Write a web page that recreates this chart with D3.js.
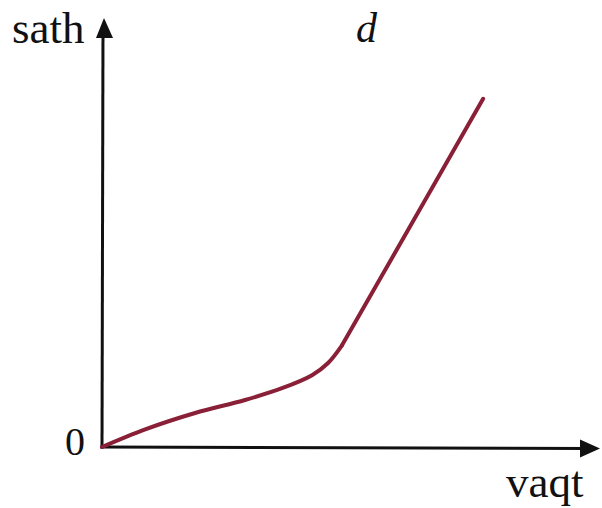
<!DOCTYPE html>
<html>
<head>
<meta charset="utf-8">
<script src="https://cdn.jsdelivr.net/npm/d3@7"></script>
<style>
html,body{margin:0;padding:0;background:#fff;}
svg{display:block;}
text{font-family:"Liberation Serif","Times New Roman",serif;fill:#111;}
</style>
</head>
<body>
<svg id="chart" width="602" height="508"></svg>
<script>
// Data (arbitrary units)
const timeValues = [0, 0.9, 1.94, 2.98, 3.75, 4.375, 4.71, 5.0, 7.94];
const distValues = [0, 0.42, 0.81, 1.12, 1.40, 1.71, 2.0, 2.42, 8.29];
const kneeIndex = 7; // straight segment after this point
const axisLabels = {x: "vaqt", y: "sath", origin: "0", title: "d"};

const svg = d3.select("#chart");
const x = d3.scaleLinear().domain([0, 10]).range([102, 582]);
const y = d3.scaleLinear().domain([0, 10]).range([447, 27]);

const data = timeValues.map((t, i) => ({t, s: distValues[i]}));

// axes
svg.append("line").attr("x1", x(0)).attr("y1", y(0) + 1.5)
  .attr("x2", x(0) + 1).attr("y2", 30)
  .attr("stroke", "#111").attr("stroke-width", 3);
svg.append("polygon")
  .attr("points", [[x(0) + 2, 18], [x(0) - 6, 38], [x(0) + 11, 38]].map(p => p.join(",")).join(" "))
  .attr("fill", "#111");

svg.append("line").attr("x1", x(0) - 1.5).attr("y1", y(0))
  .attr("x2", 588).attr("y2", y(0) + 1.5)
  .attr("stroke", "#111").attr("stroke-width", 3);
svg.append("polygon")
  .attr("points", [[600, y(0) + 1.5], [580, y(0) - 7.5], [580, y(0) + 10.5]].map(p => p.join(",")).join(" "))
  .attr("fill", "#111");

// curve: smooth lower part, straight upper part
const smooth = d3.line().x(d => x(d.t)).y(d => y(d.s)).curve(d3.curveCatmullRom.alpha(0.5));
const straight = d3.line().x(d => x(d.t)).y(d => y(d.s)).curve(d3.curveLinear);
const stroke = "#8a2038";
[[smooth, data.slice(0, kneeIndex + 1)], [straight, data.slice(kneeIndex)]].forEach(([gen, pts]) => {
  svg.append("path").datum(pts).attr("d", gen)
    .attr("fill", "none").attr("stroke", stroke).attr("stroke-width", 4)
    .attr("stroke-linecap", "round").attr("stroke-linejoin", "round");
});

// labels
svg.append("text").attr("x", 12).attr("y", 43).attr("font-size", 45).text(axisLabels.y);
svg.append("text").attr("x", 356).attr("y", 42).attr("font-size", 42)
  .attr("font-style", "italic").text(axisLabels.title);
svg.append("text").attr("x", 65).attr("y", 455).attr("font-size", 40).text(axisLabels.origin);
svg.append("text").attr("x", 506).attr("y", 497).attr("font-size", 45).text(axisLabels.x);
</script>
</body>
</html>
